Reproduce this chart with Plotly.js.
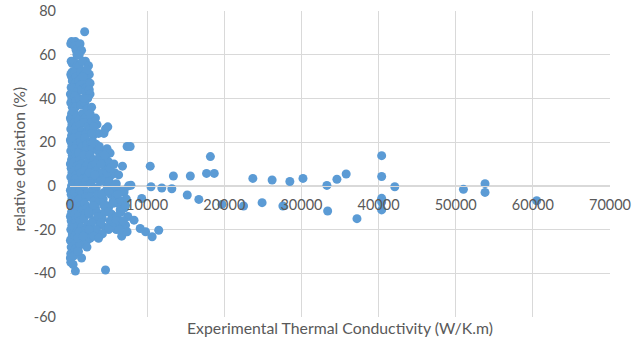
<!DOCTYPE html>
<html>
<head>
<meta charset="utf-8">
<script src="https://cdn.plot.ly/plotly-3.0.1.min.js"></script>
<style>html,body{margin:0;padding:0;background:#fff;}#chart{width:640px;height:346px;}</style>
</head>
<body>
<div id="chart"></div>
<script>
// Dense cluster (low conductivity)
const clusterX = [
  200,100,150,300,250,100,200,300,150,50,
  250,100,300,200,50,150,250,100,300,200,
  50,150,250,100,300,200,50,150,250,100,
  300,200,50,150,250,100,300,200,50,150,
  250,100,300,200,50,150,100,50,100,
  700,600,800,500,900,600,800,700,500,900,
  600,800,700,500,900,600,800,700,500,900,
  600,800,700,500,900,600,800,700,500,900,
  600,800,700,500,900,600,800,700,500,900,
  600,800,700,500,400,700,
  1300,1500,1200,1400,1600,1100,1300,1500,1200,1400,
  1600,1100,1300,1500,1200,1400,1600,1100,1300,1500,
  1200,1400,1600,1100,1300,1500,1200,1400,1600,1100,
  1300,1500,1200,1400,1300,1100,
  1900,2000,2100,1900,2200,1800,2100,2000,1900,2200,
  2000,1800,2300,2100,1900,2200,2000,1800,2300,2100,
  1900,2200,2000,1800,2300,2100,1900,2200,2000,1800,
  2300,2100,1900,2200,2000,
  2500,2600,2500,2800,2600,3000,2700,2900,2600,3100,
  2800,2500,3000,2700,2900,2600,3100,2800,2500,3000,
  2700,2900,2600,
  3300,3500,3700,3400,3600,3800,3300,3500,3700,3900,
  3400,3600,3800,3300,3500,3700,3900,3400,
  4400,4600,4300,4700,4500,4200,4600,4800,4400,4300,
  4700,4500,4200,4600,4600,
  4900,4800,5000,5200,5400,5100,5500,5300,5600,5000,
  5400,5200,
  5800,6300,6000,6400,5900,6200,6500,6100,6300,6000,
  6700,
  6800,7400,7000,7300,7100,7500,7200,7400,7600,
  7800,7900,8300,9100,9800,9300,7000
];
const clusterY = [
  66,65,57,56,52,51,50,48,45,42,
  40,38,36,33,31,30,28,26,25,23,
  21,20,18,16,14,12,10,8,6,4,
  2,0,-2,-4,-6,-8,-10,-12,-14,-16,
  -18,-20,-22,-24,-25,-28,-31,-33,-35,
  66,64,62,57,55,52,50,47,45,43,
  41,39,36,34,32,29,27,24,22,19,
  17,15,13,11,9,7,5,3,1,-1,
  -3,-5,-7,-9,-11,-13,-15,-17,-19,-21,
  -23,-26,-29,-32,-36,-39,
  65,62,55,52,50,48,46,44,40,37,
  33,30,28,25,23,20,18,15,12,10,
  8,6,3,1,-2,-4,-6,-9,-11,-14,
  -16,-19,-21,-24,-27,-30,
  70.5,57,53,51,49,47,45,43,38,35,
  31,29,27,24,22,19,16,14,11,9,
  7,4,2,0,-3,-5,-8,-10,-13,-15,
  -18,-20,-22,-25,-27,
  51,47,44,30,26,23,20,17,14,12,
  9,6,3,1,-2,-5,-7,-10,-13,-16,
  -19,-22,-24,
  31,28,24,19,16,13,10,7,5,2,
  -1,-4,-7,-10,-12,-15,-18,-21,
  24,26,15,12,9,6,3,0,-3,-6,
  -9,-12,-15,-19,-38.5,
  27,17,11,15,5,2,-1,-4,-7,-10,
  -13,-16,
  6,5,1,-2,-5,-8,-11,-14,-17,-20,
  -23,
  9,18,-3,-6,-10,-14,-18,-21,0,
  18,0.3,-15.7,-19.5,-21,-5.8,-2
];
// Further points inside the dense cluster
const fillX = [
  3000,3200,3600,4000,4100,4000,4400,4800,5000,5200,
  5000,5600,5800,6000,6200,6600,6700,6900,7200,5700,
  4500,3800,3000,2400,2800,3400,5500,5000,6400,1000,
  1700,2500,3100,4200,3700,2200,1500,1000,1200,900,
  1600,2400,2200,1700,2600,2300,1800,2800,2600,3100,
  2800
];
const fillY = [
  -9,5,-14,10,-4,-17,-9,6,-2,8,
  -12,-8,0,-16,-4,-12,-7,-16,-9,10,
  14,18,20,-12,-17,-20,-19,-20,-20,-24,
  -23,-20,-23,-22,-24,-28,-33,-30,60,60,
  57,55,53,50,42,40,40,36,33,27,
  24
];
// Sparse tail (higher conductivity)
const tailX = [
  10400,10500,10650,11500,11900,13200,13400,15200,15600,16700,
  17700,18200,18700,19700,22500,23700,24900,26200,27600,28500,
  30200,33300,33400,34600,35800,37200,40400,40400,42100,40400,
  40400,40400,51000,53800,53800,60500
];
const tailY = [
  9,-0.4,-23.3,-20.3,-1,-1.3,4.5,-4.2,4.5,-6.2,
  5.7,13.4,5.7,-8.5,-9.2,3.4,-7.7,2.7,-9.2,2,
  3.4,0.2,-11.5,3,5.4,-15,13.8,4.3,-0.4,-5.7,
  -7.4,-11,-1.6,1,-3,-6.8
];
const xTicks = [0,10000,20000,30000,40000,50000,60000,70000];
const yTicks = [-60,-40,-20,0,20,40,60,80];

const xs = clusterX.concat(fillX, tailX);
const ys = clusterY.concat(fillY, tailY);

const FONT = 'Lato, "Open Sans", sans-serif';
const GREY = '#595959';

const trace = {
  type: 'scatter', mode: 'markers', x: xs, y: ys,
  marker: {color: '#5B9BD5', size: 9, line: {width: 0}},
  cliponaxis: false, hoverinfo: 'x+y'
};

const layout = {
  width: 640, height: 346,
  margin: {l: 70, r: 30, t: 11, b: 29, pad: 0},
  paper_bgcolor: '#ffffff', plot_bgcolor: '#ffffff',
  showlegend: false,
  font: {family: FONT, size: 14, color: GREY},
  xaxis: {
    range: [0, 70000], tickvals: xTicks, ticktext: xTicks.map(String),
    showgrid: true, gridcolor: '#d9d9d9', gridwidth: 1,
    zeroline: false, showline: true, linecolor: '#d9d9d9', linewidth: 1,
    anchor: 'free', position: 60/140, ticks: '',
    ticklabelstandoff: 6,
    tickfont: {family: FONT, size: 14.5, color: GREY}
  },
  yaxis: {
    range: [-60, 80], tickvals: yTicks, ticktext: yTicks.map(String),
    showgrid: true, gridcolor: '#d9d9d9', gridwidth: 1,
    zeroline: false, showline: false, ticks: '',
    ticklabelstandoff: 13,
    tickfont: {family: FONT, size: 14.5, color: GREY}
  },
  annotations: [
    {text: 'Experimental Thermal Conductivity (W/K.m)', xref: 'paper', yref: 'paper',
     x: 0.5, y: -10/306, xanchor: 'center', yanchor: 'middle', showarrow: false,
     font: {family: FONT, size: 15.8, color: GREY}},
    {text: 'relative deviation (%)', xref: 'paper', yref: 'paper',
     x: -52/540, y: 0.515, xanchor: 'center', yanchor: 'middle', textangle: -90,
     showarrow: false, font: {family: FONT, size: 15.8, color: GREY}}
  ]
};

Plotly.newPlot('chart', [trace], layout, {displayModeBar: false, staticPlot: true});
</script>
</body>
</html>
